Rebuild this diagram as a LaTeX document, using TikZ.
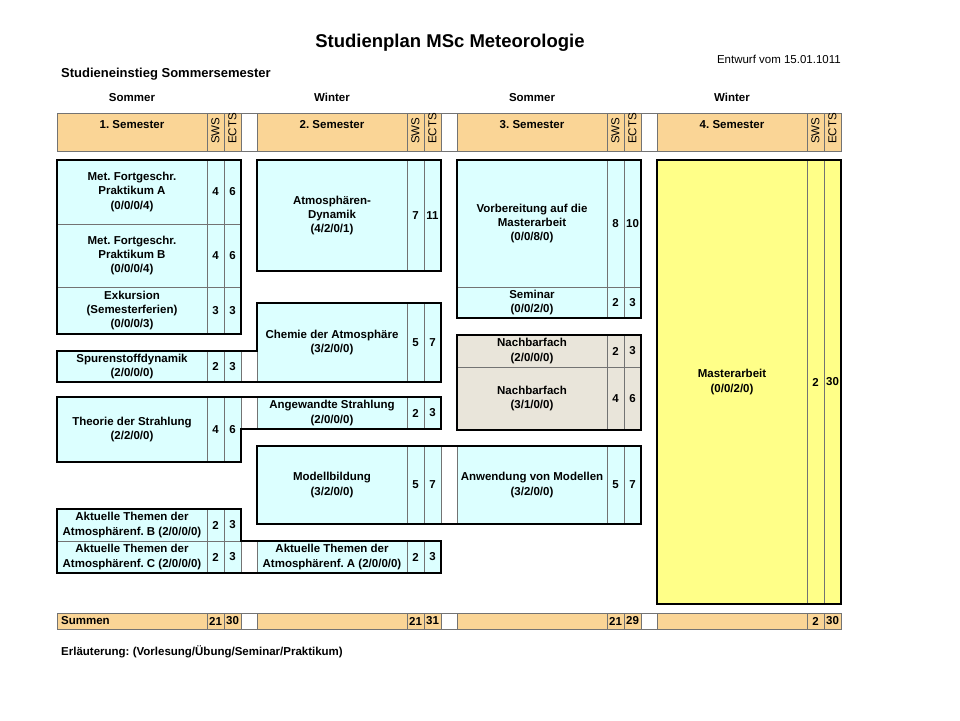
\documentclass[tikz,border=0pt]{standalone}
\usepackage{fontspec}
\setmainfont{Liberation Sans}
\usetikzlibrary{positioning}
\frenchspacing
\definecolor{kopf}{RGB}{250,213,150}
\definecolor{tuerkis}{RGB}{220,255,255}
\definecolor{beige}{RGB}{233,229,218}
\definecolor{gelb}{RGB}{255,255,136}
\definecolor{linie}{RGB}{115,115,115}

\begin{document}
\begin{tikzpicture}[x=1pt, y=-1pt,
  cell/.style={draw=linie, line width=0.9pt, anchor=north west, outer sep=0pt, inner sep=1pt, align=center, font=\bfseries\fontsize{11.5}{14.3}\selectfont},
  modul/.style={cell, minimum width=150pt},
  zahl/.style={cell, minimum width=17pt},
  luecke/.style={cell, minimum width=16pt, fill=white},
  rahmen/.style={draw=black, line width=2.8pt, line join=miter},
  txt/.style={inner sep=0pt, font=\bfseries\fontsize{11.5}{14}\selectfont}]
\fill[white] (0,0) rectangle (960,720);

\node[txt, font=\bfseries\fontsize{18.5}{22}\selectfont, anchor=base] (titel) at (450,47) {Studienplan MSc Meteorologie};
\node[txt, font=\fontsize{11.5}{14}\selectfont, anchor=base east] (entwurf) at (841,63.5) {Entwurf vom 15.01.1011};
\node[txt, font=\bfseries\fontsize{13}{16}\selectfont, anchor=base west] (einstieg) at (61,77) {Studieneinstieg Sommersemester};

\foreach \nr/\jz in {1/Sommer,2/Winter,3/Sommer,4/Winter}
  \node[txt, anchor=base] (jz\nr) at (-68+200*\nr,101) {\jz};

\foreach \nr in {1,...,4}{
  \node[modul, fill=kopf, minimum height=38pt] (sem\nr) at (-143+200*\nr,113) {};
  \node[zahl, fill=kopf, minimum height=38pt] (sem\nr-s) at (sem\nr.north east) {};
  \node[zahl, fill=kopf, minimum height=38pt] (sem\nr-e) at (sem\nr-s.north east) {};
  \node[txt, anchor=north] (semtxt\nr) at ([yshift=-7pt]sem\nr.north) {\nr. Semester};
  \node[txt, font=\fontsize{11.5}{14}\selectfont, rotate=90, anchor=west] (sws\nr) at ([yshift=7pt]sem\nr-s.south) {SWS};
  \node[txt, font=\fontsize{11.5}{14}\selectfont, rotate=90, anchor=west] (ects\nr) at ([yshift=7pt]sem\nr-e.south) {ECTS};
}
\foreach \nr in {1,2,3}
  \node[luecke, minimum height=38pt] (kluecke\nr) at (sem\nr-e.north east) {};

\foreach \nm/\xx/\yy/\hh/\txt/\sws/\ects/\farbe in {
  mfa/57/160/64/{Met. Fortgeschr.\\Praktikum A\\(0/0/0/4)}/4/6/tuerkis,
  mfb/57/224/63/{Met. Fortgeschr.\\Praktikum B\\(0/0/0/4)}/4/6/tuerkis,
  exk/57/287/47/{Exkursion\\(Semesterferien)\\(0/0/0/3)}/3/3/tuerkis,
  spur/57/351/31/{Spurenstoffdynamik\\(2/0/0/0)}/2/3/tuerkis,
  theo/57/397/65/{Theorie der Strahlung\\(2/2/0/0)}/4/6/tuerkis,
  aktb/57/509/32/{Aktuelle Themen der\\Atmosphärenf. B (2/0/0/0)}/2/3/tuerkis,
  aktc/57/541/32/{Aktuelle Themen der\\Atmosphärenf. C (2/0/0/0)}/2/3/tuerkis,
  atm/257/160/111/{Atmosphären-\\Dynamik\\(4/2/0/1)}/7/11/tuerkis,
  chem/257/303/79/{Chemie der Atmosphäre\\(3/2/0/0)}/5/7/tuerkis,
  angew/257/397/32/{Angewandte Strahlung\\(2/0/0/0)}/2/3/tuerkis,
  modell/257/446/78/{Modellbildung\\(3/2/0/0)}/5/7/tuerkis,
  akta/257/541/32/{Aktuelle Themen der\\Atmosphärenf. A (2/0/0/0)}/2/3/tuerkis,
  vorb/457/160/127/{Vorbereitung auf die\\Masterarbeit\\(0/0/8/0)}/8/10/tuerkis,
  sem/457/287/31/{Seminar\\(0/0/2/0)}/2/3/tuerkis,
  nba/457/335/32/{Nachbarfach\\(2/0/0/0)}/2/3/beige,
  nbb/457/367/63/{Nachbarfach\\(3/1/0/0)}/4/6/beige,
  anw/457/446/78/{Anwendung von Modellen\\(3/2/0/0)}/5/7/tuerkis,
  master/657/160/444/{Masterarbeit\\(0/0/2/0)}/2/30/gelb}{
  \node[modul, fill=\farbe, minimum height=\hh pt] (\nm) at (\xx,\yy) {\txt};
  \node[zahl, fill=\farbe, minimum height=\hh pt] (\nm-s) at (\nm.north east) {\sws};
  \node[zahl, fill=\farbe, minimum height=\hh pt, inner sep=0pt] (\nm-e) at (\nm-s.north east) {\ects};
}
\node[luecke, minimum height=31pt] (spurluecke) at (spur-e.north east) {};
\node[luecke, minimum height=32pt] (theoluecke) at (theo-e.north east) {};
\node[luecke, minimum height=32pt] (aktluecke) at (aktc-e.north east) {};
\node[luecke, minimum height=78pt] (modluecke) at (modell-e.north east) {};

\foreach \nr/\sws/\ects in {1/21/30,2/21/31,3/21/29,4/2/30}{
  \node[modul, fill=kopf, minimum height=16pt] (sum\nr) at (-143+200*\nr,613) {};
  \node[zahl, fill=kopf, minimum height=16pt, inner sep=0pt] (sum\nr-s) at (sum\nr.north east) {\sws};
  \node[zahl, fill=kopf, minimum height=16pt, inner sep=0pt] (sum\nr-e) at (sum\nr-s.north east) {\ects};
}
\foreach \nr in {1,2,3}
  \node[luecke, minimum height=16pt] (sluecke\nr) at (sum\nr-e.north east) {};
\node[txt, anchor=west] (summen) at ([xshift=4pt]sum1.west) {Summen};

\draw[rahmen] (mfa.north west) rectangle (exk-e.south east);
\draw[rahmen] (atm.north west) rectangle (atm-e.south east);
\draw[rahmen] (vorb.north west) rectangle (sem-e.south east);
\draw[rahmen] (nba.north west) rectangle (nbb-e.south east);
\draw[rahmen] (master.north west) rectangle (master-e.south east);
\draw[rahmen] (spur.north west) -- (spurluecke.north east) -- (chem.north west) -- (chem-e.north east)
  -- (chem-e.south east) -- (spur.south west) -- cycle;
\draw[rahmen] (theo.north west) -- (angew-e.north east) -- (angew-e.south east) -- (theoluecke.south west)
  -- (theo-e.south east) -- (theo.south west) -- cycle;
\draw[rahmen] (modell.north west) -- (anw-e.north east) -- (anw-e.south east) -- (modell.south west) -- cycle;
\draw[rahmen] (aktb.north west) -- (aktb-e.north east) -- (aktluecke.north west) -- (akta-e.north east)
  -- (akta-e.south east) -- (aktc.south west) -- cycle;

\node[txt, anchor=base west] (erl) at (61,655) {Erläuterung: (Vorlesung/Übung/Seminar/Praktikum)};
\end{tikzpicture}
\end{document}
